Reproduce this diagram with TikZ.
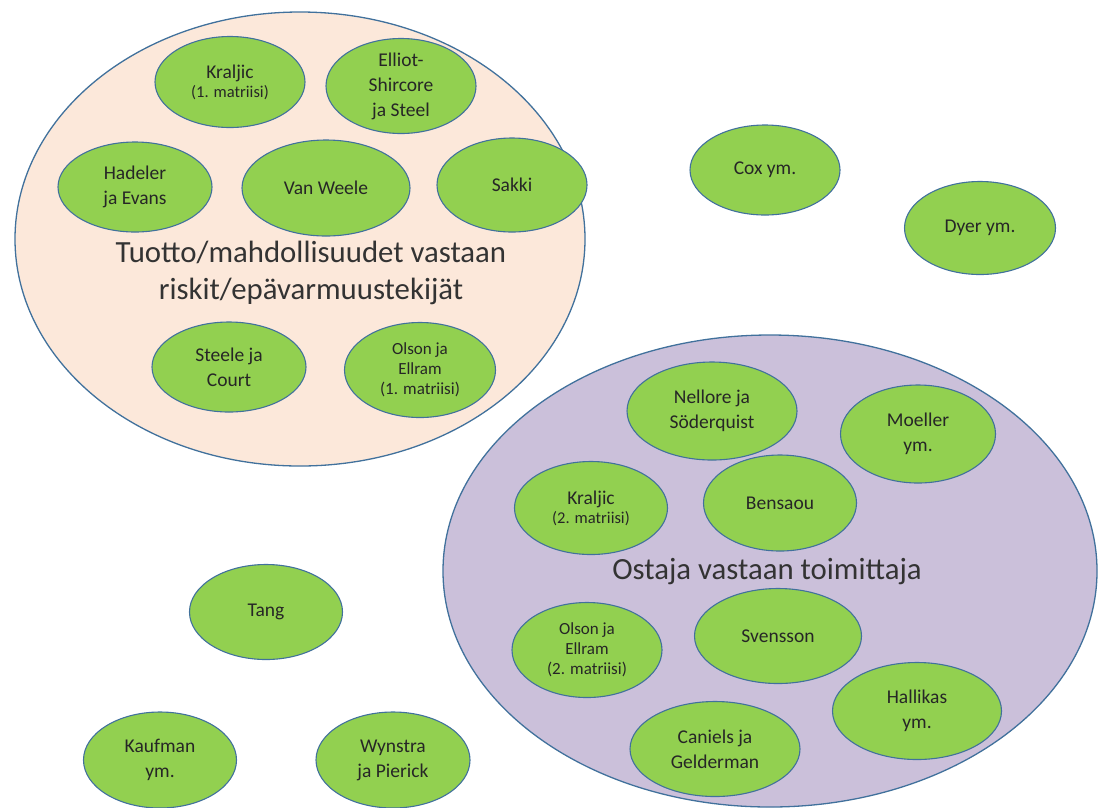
\documentclass[tikz,border=0pt]{standalone}
\usepackage{fontspec}
\setmainfont{Carlito}
\usetikzlibrary{shapes.geometric}
\definecolor{peach}{HTML}{FCE8DA}
\definecolor{lav}{HTML}{CBC0DA}
\definecolor{grn}{HTML}{92D050}
\definecolor{edge}{HTML}{41719C}
\tikzset{
  big/.style={ellipse, draw=edge, line width=1.3pt, inner sep=0pt},
  sm/.style={ellipse, draw=edge, line width=1.1pt, fill=grn, inner sep=0pt, align=center, text=black!85,
    font=\fontsize{19.5}{25}\selectfont},
  smt/.style={font=\fontsize{17}{20}\selectfont},
  lbl/.style={align=center, text=black!80, font=\fontsize{30.8}{37}\selectfont}
}
\begin{document}
\begin{tikzpicture}[x=1pt,y=-1pt]
\useasboundingbox (0,0) rectangle (1107,807);
% big ellipses
\node[big, fill=peach, minimum width=570pt, minimum height=454pt] (E1) at (300,239) {};
\node[big, fill=lav, minimum width=654pt, minimum height=472pt] (E2) at (770,571) {};
\node[lbl] (L1) at (311,273) {Tuotto/mahdollisuudet vastaan\\riskit/epävarmuustekijät};
\node[lbl] (L2) at (767,572) {Ostaja vastaan toimittaja};
% group 1
\node[sm, minimum width=150pt, minimum height=91pt] (kr1) at (230,82) {Kraljic\\[-6pt]{\fontsize{16.5}{18}\selectfont (1. matriisi)}};
\node[sm, minimum width=150pt, minimum height=95pt] (ell) at (401,86) {Elliot-\\Shircore\\ja Steel};
\node[sm, minimum width=154pt, minimum height=90pt] (had) at (135,187) {Hadeler\\ja Evans};
\node[sm, minimum width=168pt, minimum height=96pt] (vw) at (326,188) {Van Weele};
\node[sm, minimum width=150pt, minimum height=94pt] (sak) at (512,185) {Sakki};
\node[sm, minimum width=154pt, minimum height=90pt] (ste) at (229,367) {Steele ja\\Court};
\node[sm, smt, minimum width=151pt, minimum height=95pt] (ol1) at (420,370) {Olson ja\\Ellram\\(1. matriisi)};
% free
\node[sm, minimum width=150pt, minimum height=90pt] (cox) at (765,170) {Cox ym.};
\node[sm, minimum width=151pt, minimum height=93pt] (dyer) at (980,228) {Dyer ym.};
\node[sm, minimum width=153pt, minimum height=95pt] (tang) at (266,612) {Tang};
\node[sm, minimum width=153pt, minimum height=96pt] (kau) at (160,760) {Kaufman\\ym.};
\node[sm, minimum width=154pt, minimum height=96pt] (wyn) at (393,760) {Wynstra\\ja Pierick};
% group 2
\node[sm, minimum width=170pt, minimum height=98pt] (nel) at (712,411) {Nellore ja\\Söderquist};
\node[sm, minimum width=155pt, minimum height=98pt] (moe) at (918,434) {Moeller\\ym.};
\node[sm, minimum width=153pt, minimum height=93pt] (kr2) at (591,508) {Kraljic\\[-6pt]{\fontsize{16.5}{18}\selectfont (2. matriisi)}};
\node[sm, minimum width=153pt, minimum height=96pt] (ben) at (780,503) {Bensaou};
\node[sm, smt, minimum width=150pt, minimum height=95pt] (ol2) at (587,650) {Olson ja\\Ellram\\(2. matriisi)};
\node[sm, minimum width=167pt, minimum height=95pt] (sve) at (778,636) {Svensson};
\node[sm, minimum width=169pt, minimum height=97pt] (hal) at (917,711) {Hallikas\\ym.};
\node[sm, minimum width=170pt, minimum height=95pt] (can) at (715,749) {Caniels ja\\Gelderman};
\end{tikzpicture}
\end{document}
